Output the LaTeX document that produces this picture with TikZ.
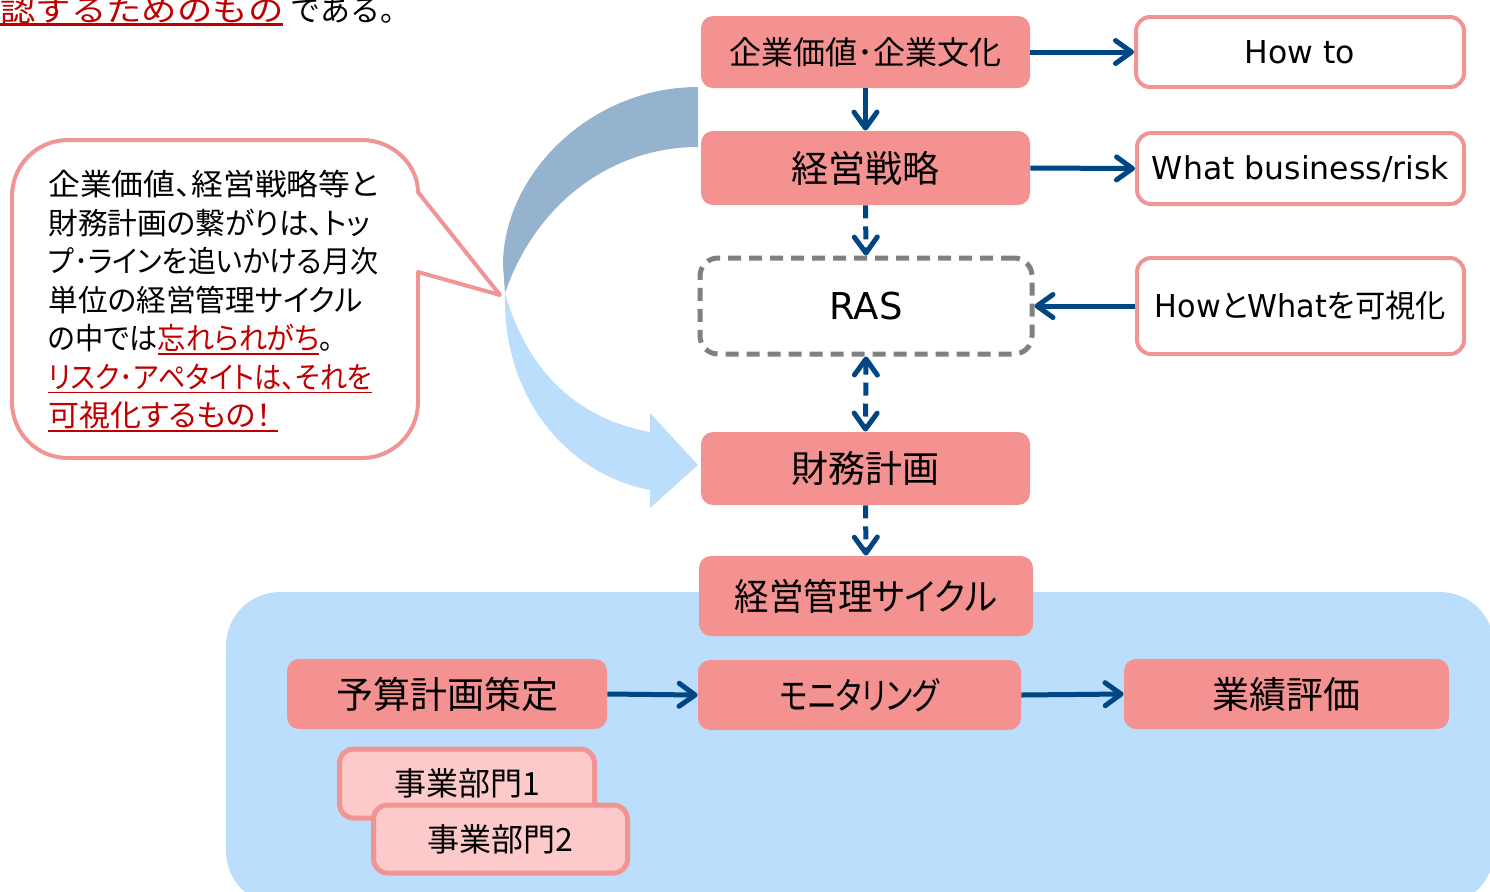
\documentclass[tikz,border=0pt]{standalone}
\usepackage{graphicx}
\usepackage{fontspec}
\setmainfont{Noto Sans CJK JP}[RawFeature=+palt]
\newfontfamily\jpfull{Noto Sans CJK JP}
\newfontfamily\lat{DejaVu Sans}
\usetikzlibrary{arrows.meta}
\definecolor{boxpink}{RGB}{244,146,145}
\definecolor{borderpink}{RGB}{241,148,148}
\definecolor{lightpink}{RGB}{252,202,202}
\definecolor{bgblue}{RGB}{186,222,252}
\definecolor{arcdark}{RGB}{149,179,206}
\definecolor{arrowblue}{RGB}{0,70,130}
\definecolor{redtxt}{RGB}{192,0,0}
\definecolor{dashgray}{RGB}{128,128,128}
\newcommand{\redul}[2]{{\color{redtxt}\setbox0=\hbox{#2}\rlap{\rule[-2.6pt]{\wd0}{#1}}\box0}}
\newcommand{\fitw}[2]{\resizebox{#1}{\height}{#2}}
\begin{document}
\begin{tikzpicture}[x=0.5pt,y=-0.5pt,
  pinkbox/.style={fill=boxpink, rounded corners=6pt, inner sep=0pt, text=black},
  whitebox/.style={draw=borderpink, fill=white, line width=2pt, rounded corners=7pt, inner sep=0pt},
  deptbox/.style={draw=borderpink, fill=lightpink, line width=2.5pt, rounded corners=7pt, inner sep=0pt, font=\fontsize{16pt}{16pt}\selectfont},
  rasbox/.style={draw=dashgray, line width=2.5pt, dash pattern=on 6.5pt off 4pt, rounded corners=9pt, inner sep=0pt},
  arr/.style={draw=arrowblue, line width=2.5pt, -{Straight Barb[length=8pt,width=11.5pt,round]}},
  darr/.style={arr, dash pattern=on 6.5pt off 4pt},
  bigf/.style={font=\fontsize{18.5pt}{18.5pt}\selectfont}
]
\useasboundingbox (0,0) rectangle (1490,891);
\clip (0,0) rectangle (1490,891);

% background panel
\fill[bgblue, rounded corners=27pt] (226,592) rectangle (1494,905);

% top cut text
\node[anchor=base west, inner sep=0pt, font=\jpfull\fontsize{15pt}{15pt}\selectfont] (toptext) at (0,21)
  {\redul{1.5pt}{\fitw{141.5pt}{認するためのもの}}\hspace{3.5pt}である。};

% callout
\draw[draw=borderpink, fill=white, line width=2pt, line join=round]
  (418,192) -- (500,295) -- (418,272) -- (418,402)
  .. controls (418,433) and (393,458) .. (362,458) -- (68,458)
  .. controls (37,458) and (12,433) .. (12,402) -- (12,196)
  .. controls (12,165) and (37,140) .. (68,140) -- (362,140)
  .. controls (393,140) and (418,165) .. (418,192) -- cycle;
\node[anchor=north west, align=left, inner sep=0pt, font=\fontsize{15pt}{19.25pt}\selectfont] (ctext) at (48,170)
  {\fitw{165pt}{企業価値、経営戦略等と}\\
   \fitw{161pt}{財務計画の繋がりは、トッ}\\
   \fitw{165pt}{プ･ラインを追いかける月次}\\
   \fitw{157pt}{単位の経営管理サイクル}\\
   \fitw{142.5pt}{の中では\redul{0.9pt}{忘れられがち}。}\\
   \fitw{162pt}{\redul{0.9pt}{リスク･アペタイトは、それを}}\\
   \fitw{115pt}{\redul{0.9pt}{可視化するもの！\ }}};

% big curved arrows
\fill[arcdark] (698,87) .. controls (590,87) and (503,175) .. (503,265) -- (505,293)
  .. controls (535,205) and (610,147) .. (698,147) -- cycle;
\fill[bgblue] (505,293) .. controls (502,400) and (570,475) .. (650,490) -- (650,508) -- (698,465)
  -- (650,413) -- (650,432) .. controls (585,420) and (530,380) .. (505,293) -- cycle;

% main column
\node[pinkbox, minimum width=164.5pt, minimum height=36pt, font=\fontsize{16pt}{16pt}\selectfont] (v1) at (865.5,52) {企業価値･企業文化};
\node[pinkbox, bigf, minimum width=164.5pt, minimum height=37pt] (v2) at (865.5,168) {経営戦略};
\node[rasbox, minimum width=166pt, minimum height=48pt, font=\lat\fontsize{18.5pt}{18.5pt}\selectfont] (ras) at (866,306) {RAS};
\node[pinkbox, bigf, minimum width=164.5pt, minimum height=36.5pt] (fin) at (865.5,468.5) {財務計画};
\node[pinkbox, bigf, minimum width=167pt, minimum height=40pt] (cyc) at (866,596) {\fitw{131pt}{経営管理サイクル}};

% right column
\node[whitebox, minimum width=164pt, minimum height=35pt, font=\lat\fontsize{15.75pt}{15.75pt}\selectfont] (how) at (1300,52) {How to};
\node[whitebox, minimum width=163.5pt, minimum height=35.5pt, font=\lat\fontsize{15.75pt}{15.75pt}\selectfont] (what) at (1300.5,168.5) {What business/risk};
\node[whitebox, minimum width=163.5pt, minimum height=48pt, font=\fontsize{15.75pt}{15.75pt}\selectfont] (hw) at (1300.5,306) {\fitw{145.5pt}{{\lat How}と{\lat What}を可視化}};

% cycle row
\node[pinkbox, bigf, minimum width=160pt, minimum height=35pt] (bud) at (447,694) {予算計画策定};
\node[pinkbox, bigf, minimum width=161.5pt, minimum height=35pt] (mon) at (859.5,695) {\fitw{80pt}{モニタリング}};
\node[pinkbox, bigf, minimum width=162.5pt, minimum height=35pt] (eva) at (1286.5,694) {業績評価};

% departments
\node[deptbox, minimum width=127.5pt, minimum height=34.5pt] (d1) at (467,783.5) {事業部門1};
\node[deptbox, minimum width=127pt, minimum height=34pt] (d2) at (500.5,839) {事業部門2};

% connectors
\draw[arr] (v1.east) -- (how.west);
\draw[arr] (v2.east) -- (what.west);
\draw[arr] (hw.west) -- (ras.east);
\draw[arr] (v1.south) -- (v2.north);
\draw[darr] (v2.south) -- (ras.north);
\draw[darr, {Straight Barb[length=8pt,width=11.5pt,round]}-{Straight Barb[length=8pt,width=11.5pt,round]}] (ras.south) -- (fin.north);
\draw[darr] (fin.south) -- (cyc.north);
\draw[arr] (bud.east) -- (mon.west);
\draw[arr] (mon.east) -- (eva.west);
\end{tikzpicture}
\end{document}
